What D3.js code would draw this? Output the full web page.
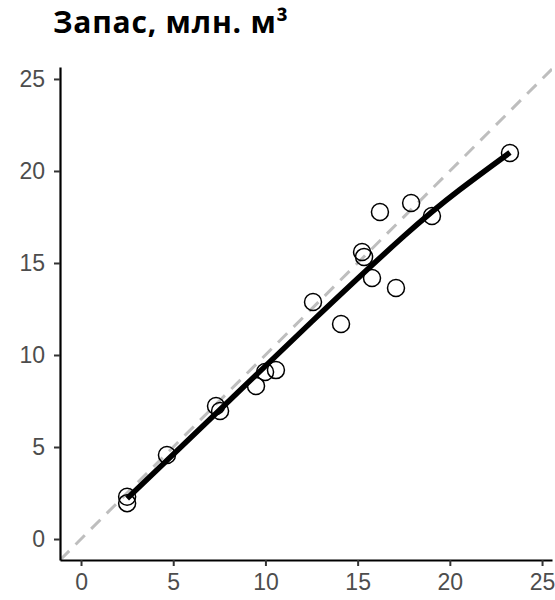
<!DOCTYPE html>
<html>
<head>
<meta charset="utf-8">
<script src="https://cdn.jsdelivr.net/npm/d3@7"></script>
<style>
  body { margin: 0; background: #fff; }
  svg { display: block; }
</style>
</head>
<body>
<div id="container"></div>
<script>
let obsX = [2.5, 2.5, 4.66, 7.32, 7.54, 9.49, 9.98, 10.57, 12.58, 14.1, 15.24, 15.35, 15.78, 16.21, 17.08, 17.9, 19.03, 23.26];
let obsY = [2.3, 1.95, 4.57, 7.23, 6.96, 8.32, 9.08, 9.18, 12.88, 11.68, 15.6, 15.33, 14.18, 17.77, 13.64, 18.26, 17.55, 20.98];

// smoothed fit line
let fitX = [2.5, 7.5, 12.5, 17.5, 20.5, 23.26];
let fitY = [2.2, 7.0, 11.8, 16.45, 18.95, 21.0];

let tickVals = [0, 5, 10, 15, 20, 25];
let title = "Запас, млн. м³";

let w = 555;
let h = 600;

let svg = d3.select("#container").append("svg")
  .attr("width", w)
  .attr("height", h);

let panelL = 60, panelR = 552, panelT = 67, panelB = 560;

let xScale = d3.scaleLinear().domain([-1.14, 25.54]).range([panelL, panelR]);
let yScale = d3.scaleLinear().domain([-1.14, 25.65]).range([panelB, panelT]);

svg.append("defs").append("clipPath").attr("id", "panel")
  .append("rect")
  .attr("x", panelL).attr("y", panelT)
  .attr("width", panelR - panelL).attr("height", panelB - panelT);

// 1:1 dashed reference line
svg.append("line")
  .attr("clip-path", "url(#panel)")
  .attr("x1", xScale(-1.14)).attr("y1", yScale(-1.14))
  .attr("x2", xScale(26)).attr("y2", yScale(26))
  .attr("stroke", "#bebebe")
  .attr("stroke-width", 3)
  .attr("stroke-dasharray", "13,9");

// points
svg.selectAll(".pt")
  .data(obsX.map((d, i) => [d, obsY[i]]))
  .enter()
  .append("circle")
  .attr("class", "pt")
  .attr("cx", d => xScale(d[0]))
  .attr("cy", d => yScale(d[1]))
  .attr("r", 8.5)
  .attr("fill", "none")
  .attr("stroke", "#000")
  .attr("stroke-width", 1.5);

// fit line
let line = d3.line()
  .x(d => xScale(d[0]))
  .y(d => yScale(d[1]))
  .curve(d3.curveNatural);

svg.append("path")
  .attr("d", line(fitX.map((d, i) => [d, fitY[i]])))
  .attr("fill", "none")
  .attr("stroke", "#000")
  .attr("stroke-width", 5.5);

// axes
let xAxis = svg.append("g")
  .attr("transform", "translate(0," + panelB + ")")
  .call(d3.axisBottom(xScale).tickValues(tickVals).tickSizeInner(6).tickSizeOuter(0).tickPadding(8));

let yAxis = svg.append("g")
  .attr("transform", "translate(" + panelL + ",0)")
  .call(d3.axisLeft(yScale).tickValues(tickVals).tickSizeInner(6).tickSizeOuter(0).tickPadding(9));

[xAxis, yAxis].forEach(ax => {
  ax.select(".domain").attr("stroke", "#000").attr("stroke-width", 2.2);
  ax.selectAll(".tick line").attr("stroke", "#333").attr("stroke-width", 2);
  ax.selectAll(".tick text")
    .attr("fill", "#4d4d4d")
    .style("font-family", "Arial, 'Liberation Sans', sans-serif")
    .style("font-size", "23px");
});

// title
svg.append("text")
  .attr("x", 53)
  .attr("y", 33)
  .text(title)
  .style("font-family", "'Open Sans', sans-serif")
  .style("font-weight", "bold")
  .style("font-size", "30px")
  .style("letter-spacing", "0.8px")
  .attr("fill", "#000");
</script>
</body>
</html>
